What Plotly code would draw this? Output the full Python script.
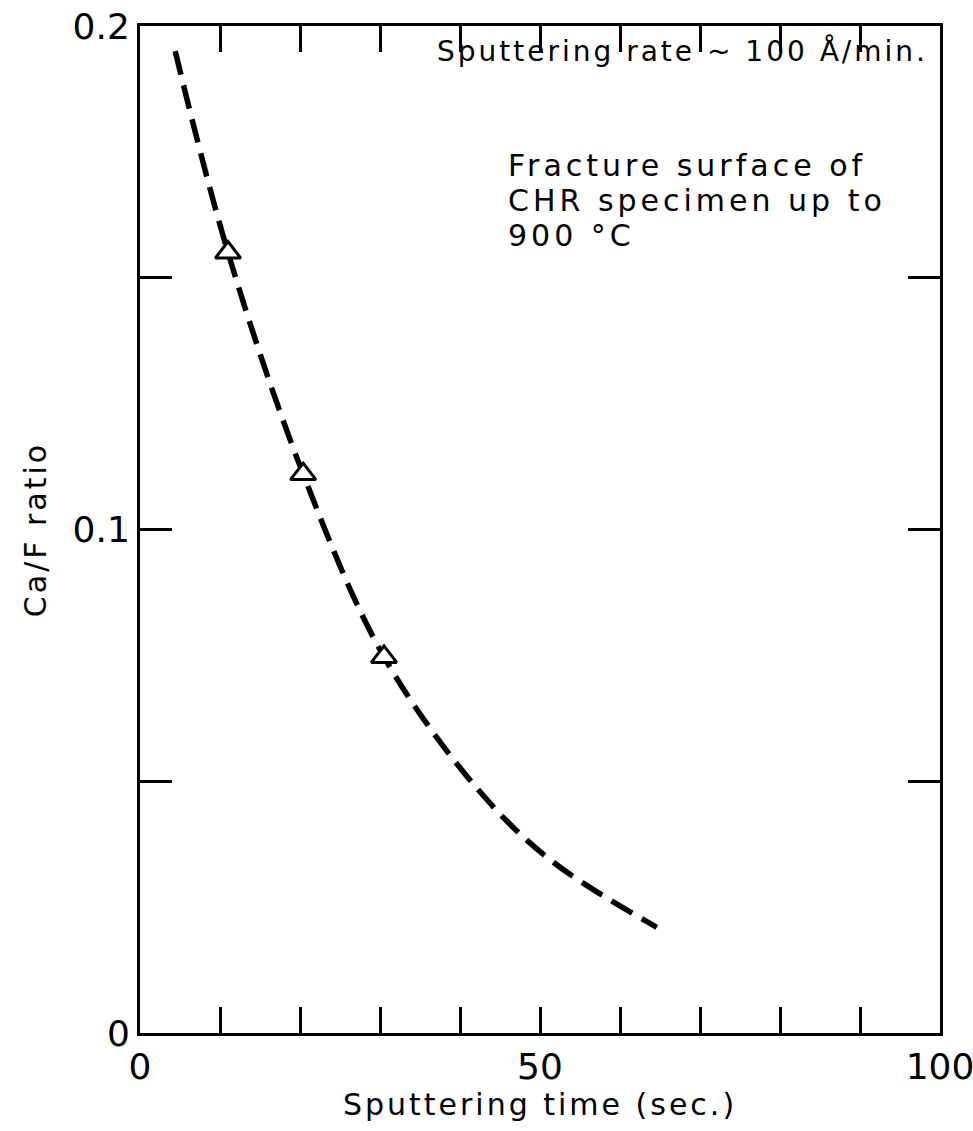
import plotly.graph_objects as go

# Dashed fitted curve
curve_x = [4.4, 11.0, 20.4, 30.5, 42.5, 51.6, 64.6]
curve_y = [0.195, 0.155, 0.111, 0.0747, 0.0479, 0.0340, 0.0210]

# Measured points (open triangles)
pts_x = [11.0, 20.4, 30.5]
pts_y = [0.155, 0.111, 0.0747]

x_tickvals = [0, 10, 20, 30, 40, 50, 60, 70, 80, 90, 100]
x_ticktext = ["0", "", "", "", "", "50", "", "", "", "", "100"]
y_tickvals = [0, 0.05, 0.1, 0.15, 0.2]
y_ticktext = ["0", "", "0.1", "", "0.2"]

FONT = "DejaVu Sans"


def spaced(s, px):
    return '<span style="letter-spacing:%dpx">%s</span>' % (px, s)


fig = go.Figure()
fig.add_trace(go.Scatter(
    x=curve_x, y=curve_y, mode="lines",
    line=dict(color="black", width=5.5, dash="24px,11px", shape="spline", smoothing=1.0),
    showlegend=False, hoverinfo="skip"))
fig.add_trace(go.Scatter(
    x=pts_x, y=pts_y, mode="markers",
    marker=dict(symbol="triangle-up", size=22, color="white",
                line=dict(color="black", width=3)),
    showlegend=False))

fig.update_xaxes(
    range=[0, 100], tickvals=x_tickvals, ticktext=x_ticktext,
    ticks="inside", ticklen=26, tickwidth=2.5, tickcolor="black",
    showline=True, linewidth=3, linecolor="black", mirror="allticks",
    showgrid=False, zeroline=False, ticklabeloverflow="allow", automargin=False,
    tickfont=dict(family=FONT, size=36, color="black"),
    title=dict(text=spaced("Sputtering time (sec.)", 3), font=dict(family=FONT, size=30, color="black"), standoff=6))
fig.update_yaxes(
    range=[0, 0.2], tickvals=y_tickvals, ticktext=y_ticktext,
    ticks="inside", ticklen=32, tickwidth=2.5, tickcolor="black",
    showline=True, linewidth=3, linecolor="black", mirror="allticks",
    showgrid=False, zeroline=False, ticklabeloverflow="allow", automargin=False,
    tickfont=dict(family=FONT, size=36, color="black"),
    title=dict(text=spaced("Ca/F ratio", 3), font=dict(family=FONT, size=30, color="black"), standoff=18))

fig.add_annotation(x=0.988, y=0.975, xref="paper", yref="paper",
                   text=spaced("Sputtering rate ~ 100 Å/min.", 3), showarrow=False,
                   xanchor="right", yanchor="middle",
                   font=dict(family=FONT, size=28, color="black"))
ann_lines = ["Fracture surface of", "CHR specimen up to", "900 °C"]
for i, t in enumerate(ann_lines):
    fig.add_annotation(x=0.458, y=0.861 - i * 0.0345, xref="paper", yref="paper",
                       text=spaced(t, 4), showarrow=False,
                       xanchor="left", yanchor="middle", align="left",
                       font=dict(family=FONT, size=30, color="black"))

fig.update_layout(
    width=973, height=1131,
    margin=dict(l=140, r=33, t=26, b=98),
    paper_bgcolor="white", plot_bgcolor="white",
)

fig.write_html("out.html")
